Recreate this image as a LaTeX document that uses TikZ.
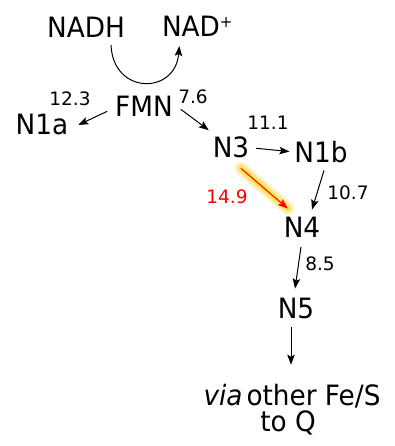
\documentclass[tikz,border=0pt]{standalone}
\usepackage{fontspec}
\setmainfont{DejaVu Sans}
\newfontfamily\bigfont{DejaVu Sans}[FakeStretch=0.94]
\usetikzlibrary{arrows.meta,calc}
\begin{document}
\begin{tikzpicture}[x=1pt,y=-1pt,
  big/.style={inner sep=0pt,outer sep=0pt,anchor=base,font=\bigfont\fontsize{28}{32}\selectfont},
  num/.style={inner sep=0pt,outer sep=0pt,anchor=base,font=\fontsize{18.5}{20}\selectfont},
  arr/.style={line width=1pt,-{Stealth[length=10pt,width=7.5pt,inset=2pt]}},
  glow/.style={line cap=round,draw opacity=#1}
]
\fill[white] (0,0) rectangle (395,446);
\useasboundingbox (0,0) rectangle (395,446);
% main nodes
\node[big] (NADH) at (86,38) {NADH};
\node[big,anchor=base west] (NAD) at (162,37) {NAD\raisebox{9pt}{\fontsize{16}{16}\selectfont +}};
\node[big] (FMN) at (144,117) {FMN};
\node[big] (N1a) at (42,135) {N1a};
\node[big] (N3) at (231,158) {N3};
\node[big] (N1b) at (321,163) {N1b};
\node[big] (N4) at (302,237) {N4};
\node[big] (N5) at (296,318) {N5};
\node[big] (via) at (292,405) {\textit{via}\hspace{4pt}other Fe/S};
\node[big] (toQ) at (288,431) {to Q};
% labels
\node[num] (l123) at (70,106) {12.3};
\node[num] (l76) at (193,104) {7.6};
\node[num] (l111) at (268,130) {11.1};
\node[num,text=red] (l149) at (227,203) {14.9};
\node[num] (l107) at (348,200) {10.7};
\node[num] (l85) at (320,270) {8.5};
% curved arrow NADH -> NAD+
\draw[arr] ($(NADH.south)+(25,7)$) .. controls +(2,50) and +(-4,49) .. ($(NAD.south)+(-18,9)$);
% arrows
\draw[arr] ($(FMN.west)+(-8,4.5)$) -- ($(N1a.east)+(10,0)$);
\draw[arr] ($(FMN.east)+(8,2.5)$) -- ($(N3.north west)+(-4,-7)$);
\draw[arr] ($(N3.east)+(7,0.5)$) -- ($(N1b.west)+(-5,-1)$);
% glowing red arrow N3 -> N4
\coordinate (rs) at ($(N3.south)+(10,10)$);
\coordinate (re) at ($(N4.north west)+(4,-8)$);
\draw[glow=0.2,yellow!60!orange,line width=13pt] (rs) -- (re);
\draw[glow=0.3,yellow!70!orange,line width=9pt] (rs) -- (re);
\draw[glow=0.45,yellow!80!orange,line width=5pt] (rs) -- (re);
\draw[arr,red] (rs) -- (re);
\draw[arr] ($(N1b.south)+(3,7)$) -- ($(N4.north)+(10,-7)$);
\draw[arr] ($(N4.south)+(-1,10)$) -- ($(N5.north)+(-1,-9)$);
\draw[arr] ($(N5.south)+(-5,9)$) -- ($(via.north)+(-1,-19)$);
\end{tikzpicture}
\end{document}
